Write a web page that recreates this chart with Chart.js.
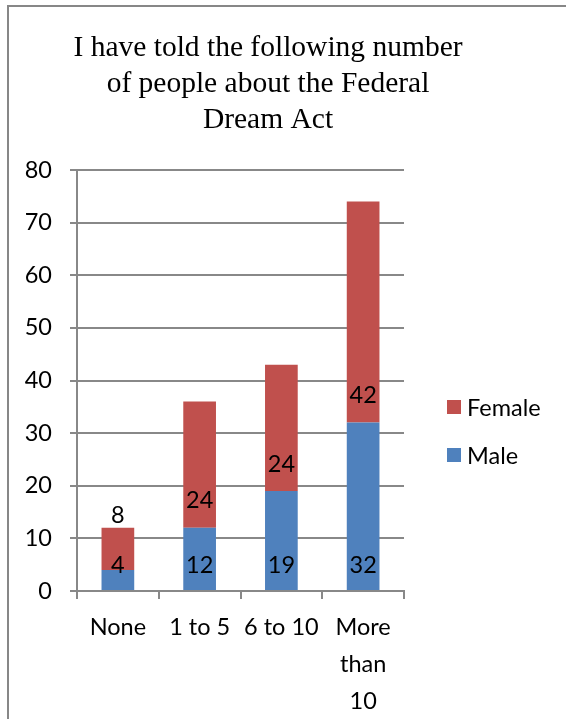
<!DOCTYPE html>
<html>
<head>
<meta charset="utf-8">
<title>Federal Dream Act</title>
<script src="https://cdn.jsdelivr.net/npm/chart.js@4.4.1/dist/chart.umd.min.js"></script>
<style>
  html, body { margin: 0; padding: 0; background: #ffffff; }
  #wrap { position: relative; width: 567px; height: 719px; }
</style>
</head>
<body>
<div id="wrap"><canvas id="chart" width="567" height="719"></canvas></div>
<script>
// Survey answers split by gender
const categories = ['None', ['1 to 5'], ['6 to 10'], ['More', 'than', '10']];
const maleCounts = [4, 12, 19, 32];
const femaleCounts = [8, 24, 24, 42];
const yTicks = [0, 10, 20, 30, 40, 50, 60, 70, 80];
const titleLines = ['I have told the following number', 'of people about the Federal', 'Dream Act'];

const BLUE = '#4F81BD';
const RED = '#C0504D';
const GRID = '#888888';
const SANS = 'Lato, "Open Sans", sans-serif';
const SERIF = '"Liberation Serif", "Times New Roman", serif';
const FONT_SIZE = 23.5;

// Outer frame, title and legend drawn on the canvas
const decorPlugin = {
  id: 'decor',
  afterDraw(chart) {
    const ctx = chart.ctx;
    ctx.save();
    // frame edges
    ctx.strokeStyle = '#878787';
    ctx.lineWidth = 2;
    ctx.beginPath();
    ctx.moveTo(8, 719);
    ctx.lineTo(8, 6);
    ctx.lineTo(566, 6);
    ctx.stroke();

    // title
    ctx.fillStyle = '#000000';
    ctx.font = '29.5px ' + SERIF;
    ctx.textAlign = 'center';
    ctx.textBaseline = 'middle';
    titleLines.forEach((line, i) => ctx.fillText(line, 268, 48 + i * 36));

    // legend (Female listed first)
    const items = [chart.data.datasets[1], chart.data.datasets[0]];
    ctx.font = FONT_SIZE + 'px ' + SANS;
    ctx.textAlign = 'left';
    items.forEach((ds, i) => {
      const cy = 407 + i * 48;
      ctx.fillStyle = ds.backgroundColor;
      ctx.fillRect(447, cy - 7, 14, 14);
      ctx.fillStyle = '#000000';
      ctx.fillText(ds.label, 467, cy + 1);
    });
    ctx.restore();
  }
};

// Value labels placed near the base of each segment
const valueLabelPlugin = {
  id: 'valueLabels',
  afterDatasetsDraw(chart) {
    const ctx = chart.ctx;
    const yScale = chart.scales.y;
    const maleMeta = chart.getDatasetMeta(0);
    const femaleMeta = chart.getDatasetMeta(1);
    ctx.save();
    ctx.fillStyle = '#000000';
    ctx.font = FONT_SIZE + 'px ' + SANS;
    ctx.textAlign = 'center';
    ctx.textBaseline = 'middle';
    maleCounts.forEach((m, i) => {
      const x = maleMeta.data[i].x;
      const maleY = yScale.getPixelForValue(0) - 26;
      ctx.fillText(String(m), x, maleY);
      const femaleBase = yScale.getPixelForValue(m);
      const femaleY = Math.min(femaleBase - 27, maleY - 50);
      ctx.fillText(String(femaleCounts[i]), femaleMeta.data[i].x, femaleY);
    });
    ctx.restore();
  }
};

function drawChart() {
  new Chart(document.getElementById('chart'), {
    type: 'bar',
    data: {
      labels: categories,
      datasets: [
        { label: 'Male', data: maleCounts, backgroundColor: BLUE, borderWidth: 0 },
        { label: 'Female', data: femaleCounts, backgroundColor: RED, borderWidth: 0 }
      ]
    },
    options: {
      responsive: false,
      animation: false,
      layout: { padding: { left: 0, top: 170, right: 163, bottom: 0 } },
      plugins: {
        legend: { display: false },
        title: { display: false },
        tooltip: { enabled: false }
      },
      datasets: {
        bar: { categoryPercentage: 1.0, barPercentage: 0.4 }
      },
      scales: {
        x: {
          stacked: true,
          grid: {
            offset: true,
            drawOnChartArea: false,
            drawTicks: true,
            tickLength: 8,
            color: GRID,
            lineWidth: 2
          },
          border: { display: true, color: GRID, width: 2 },
          ticks: {
            color: '#000000',
            font: { family: SANS, size: FONT_SIZE, lineHeight: 37 / FONT_SIZE },
            padding: 10,
            maxRotation: 0,
            autoSkip: false
          },
          afterFit(scale) { scale.height = 128; }
        },
        y: {
          stacked: true,
          min: 0,
          max: 80,
          afterBuildTicks(scale) { scale.ticks = yTicks.map(v => ({ value: v })); },
          grid: {
            color: GRID,
            lineWidth: 2,
            drawTicks: true,
            tickLength: 7
          },
          border: { display: true, color: GRID, width: 2 },
          ticks: {
            color: '#000000',
            font: { family: SANS, size: FONT_SIZE },
            padding: 18
          },
          afterFit(scale) { scale.width = 77; }
        }
      }
    },
    plugins: [decorPlugin, valueLabelPlugin]
  });
}

// Make sure the local fonts are ready before the canvas text is drawn
Promise.all([
  document.fonts.load(FONT_SIZE + 'px Lato'),
  document.fonts.load('30px "Liberation Serif"')
]).then(drawChart, drawChart);
</script>
</body>
</html>
